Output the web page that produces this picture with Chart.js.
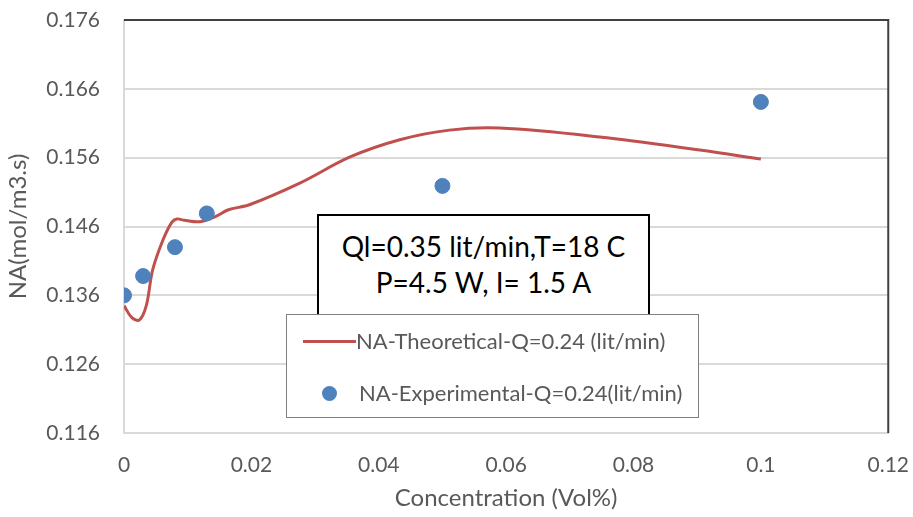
<!DOCTYPE html>
<html>
<head>
<meta charset="utf-8">
<script src="https://cdn.jsdelivr.net/npm/chart.js@4"></script>
<style>
  html, body { margin: 0; padding: 0; background: #fff; }
  #wrap { position: relative; width: 913px; height: 517px; font-family: Lato, "Open Sans", sans-serif; }
  #chart { position: absolute; left: 0; top: 0; }
  .note {
    position: absolute; left: 317px; top: 214px; width: 329px; height: 93px;
    border: 2px solid #000; background: #fff; color: #000;
    font-size: 28px; line-height: 36px; text-align: center; padding-top: 12px; box-sizing: content-box;
  }
  .legend {
    position: absolute; left: 286px; top: 314px; width: 411px; height: 102px;
    border: 1px solid #7f7f7f; background: #fff; color: #595959; font-size: 22px;
  }
  .row { position: absolute; left: 0; white-space: nowrap; }
  .swatch-line { position: absolute; left: 16px; top: 13px; width: 53px; height: 3px; background: #c0504d; }
  .swatch-dot { position: absolute; left: 35px; top: 7px; width: 15px; height: 15px; border-radius: 50%; background: #4f81bd; }
  .row span { position: absolute; white-space: nowrap; }
</style>
</head>
<body>
<div id="wrap">
  <canvas id="chart" width="913" height="517"></canvas>
  <div class="note">Ql=0.35 lit/min,T=18 C<br>P=4.5 W, I= 1.5 A</div>
  <div class="legend">
    <div class="row" style="top:12px"><div class="swatch-line"></div><span style="left:69px;top:0">NA-Theoretical-Q=0.24 (lit/min)</span></div>
    <div class="row" style="top:64px"><div class="swatch-dot"></div><span style="left:72px;top:0">NA-Experimental-Q=0.24(lit/min)</span></div>
  </div>
</div>
<script>
const theoX = [0, 0.0012, 0.0024, 0.0035, 0.0045, 0.0061, 0.0075, 0.0083, 0.0095, 0.0119, 0.0145, 0.0163, 0.0198,
  0.0276, 0.0355, 0.0433, 0.0511, 0.059, 0.0747, 0.0904, 0.1];
const theoY = [0.1345, 0.1328, 0.1324, 0.1345, 0.1397, 0.1440, 0.1466, 0.1471, 0.1469, 0.1467, 0.1475, 0.1484, 0.1492,
  0.1523, 0.1561, 0.1586, 0.1600, 0.1603, 0.1590, 0.1571, 0.1558];
const expX = [0, 0.003, 0.008, 0.013, 0.05, 0.1];
const expY = [0.136, 0.1388, 0.143, 0.1479, 0.1519, 0.1641];
const yTicks = [0.116, 0.126, 0.136, 0.146, 0.156, 0.166, 0.176];
const xTicks = [0, 0.02, 0.04, 0.06, 0.08, 0.1, 0.12];

const FONT = "Lato, 'Open Sans', sans-serif";
const GRAY = "#595959";

// dark frame on the top and right edges of the plot area
const frame = {
  id: "frame",
  afterDatasetsDraw(c) {
    const { ctx, chartArea: a } = c;
    ctx.save();
    ctx.strokeStyle = "#404040";
    ctx.lineWidth = 2;
    ctx.beginPath();
    ctx.moveTo(a.left, a.top);
    ctx.lineTo(a.right, a.top);
    ctx.lineTo(a.right, a.bottom);
    ctx.stroke();
    ctx.restore();
  }
};

function draw() {
  new Chart(document.getElementById("chart"), {
    type: "scatter",
    data: {
      datasets: [
        {
          label: "NA-Theoretical-Q=0.24 (lit/min)",
          data: theoX.map((x, i) => ({ x, y: theoY[i] })),
          showLine: true,
          borderColor: "#c0504d",
          borderWidth: 3,
          pointRadius: 0,
          tension: 0.35,
          order: 2
        },
        {
          label: "NA-Experimental-Q=0.24(lit/min)",
          data: expX.map((x, i) => ({ x, y: expY[i] })),
          backgroundColor: "#4f81bd",
          borderColor: "#4f81bd",
          pointRadius: 7.5,
          order: 1
        }
      ]
    },
    options: {
      responsive: false,
      animation: false,
      layout: { padding: { top: 20, right: 24, left: 0, bottom: 0 } },
      plugins: { legend: { display: false }, tooltip: { enabled: false } },
      scales: {
        x: {
          type: "linear", min: 0, max: 0.12,
          afterBuildTicks: s => { s.ticks = xTicks.map(v => ({ value: v })); },
          afterFit: s => { s.height = 84; },
          grid: { color: "transparent", drawTicks: true, tickLength: 16 },
          border: { display: true, color: "#d9d9d9", width: 2 },
          ticks: { padding: 4, color: GRAY, font: { family: FONT, size: 21 }, callback: v => String(+v.toFixed(2)) },
          title: { display: true, text: "Concentration (Vol%)", color: GRAY, font: { family: FONT, size: 24 }, padding: { top: 4 } }
        },
        y: {
          type: "linear", min: 0.116, max: 0.176,
          afterBuildTicks: s => { s.ticks = yTicks.map(v => ({ value: v })); },
          afterFit: s => { s.width = 124; },
          grid: { color: "#d9d9d9", lineWidth: 2, drawTicks: true, tickLength: 20, tickColor: "transparent" },
          border: { display: true, color: "#d9d9d9", width: 2 },
          ticks: { padding: 4, color: GRAY, font: { family: FONT, size: 21 }, callback: v => v.toFixed(3) },
          title: { display: true, text: "NA(mol/m3.s)", color: GRAY, font: { family: FONT, size: 24 }, padding: { top: 4, bottom: 0 } }
        }
      }
    },
    plugins: [frame]
  });
}

document.fonts.load("21px Lato").then(draw, draw);
</script>
</body>
</html>
